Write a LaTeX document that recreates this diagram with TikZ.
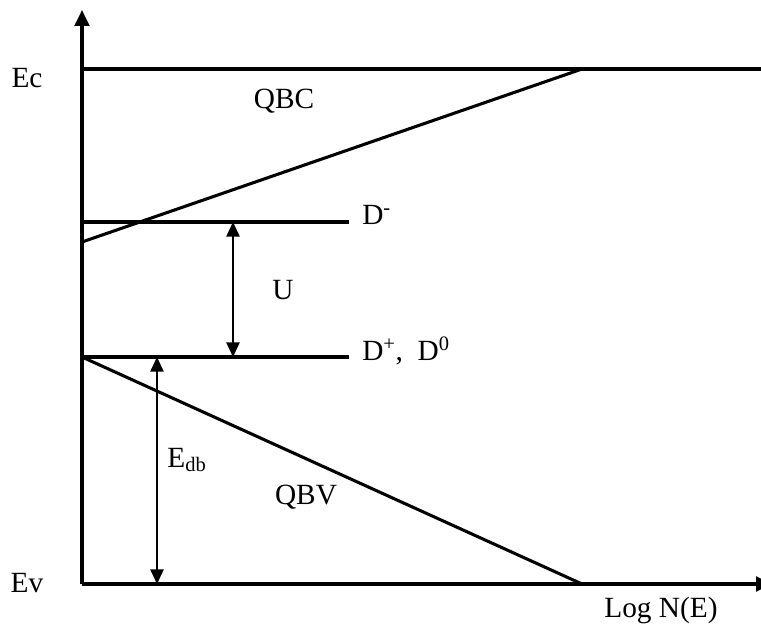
\documentclass[tikz,border=0pt]{standalone}
\usepackage{fontspec}
\setmainfont{Liberation Serif}
\usetikzlibrary{arrows.meta,positioning}

\tikzset{
  level/.style={line width=2.3pt},
  axis/.style={line width=2.3pt, -{Triangle[length=12pt,width=11pt]}},
  gap/.style={line width=1.2pt, {Triangle[length=11pt,width=10pt]}-{Triangle[length=11pt,width=10pt]}},
  lbl/.style={inner sep=0pt, font=\fontsize{22}{26}\selectfont}
}

\begin{document}
\begin{tikzpicture}[x=0.75pt,y=-0.75pt]
	\useasboundingbox (0,0) rectangle (761,634);
	\clip (0,0) rectangle (761,634);

	% axes
	\coordinate (o) at (82,584);
	\coordinate (ytop) at (82,10);
	\coordinate (xend) at (772,584);
	\draw[axis] (o) -- (ytop);
	\draw[axis] (o) -- (xend);

	% band edges and defect levels
	\coordinate (ec0) at (82,69);
	\coordinate (ec1) at (761,69);
	\coordinate (dm0) at (82,222);
	\coordinate (dm1) at (349,222);
	\coordinate (dp0) at (82,357);
	\coordinate (dp1) at (349,357);
	\draw[level] (ec0) -- (ec1);
	\draw[level] (dm0) -- (dm1);
	\draw[level] (dp0) -- (dp1);

	% band tails
	\coordinate (qbc0) at (82,242);
	\coordinate (qbc1) at (582,69);
	\coordinate (qbv1) at (582,584);
	\draw[level] (qbc0) -- (qbc1);
	\draw[level] (dp0) -- (qbv1);

	% energy gaps
	\coordinate (u0) at (233,222);
	\coordinate (u1) at (233,357);
	\coordinate (e0) at (157,357);
	\coordinate (e1) at (157,584);
	\draw[gap] (u0) -- (u1);
	\draw[gap] (e0) -- (e1);

	% labels
	\node[lbl] (ec) at (27,78) {Ec};
	\node[lbl] (ev) at (27,583) {Ev};
	\node[lbl] (qbc) at (284,101) {QBC};
	\node[lbl, anchor=west] (dm) at (362,215) {D\textsuperscript{-}};
	\node[lbl] (u) at (283,290) {U};
	\node[lbl, anchor=west] (dp) at (362,351) {D\textsuperscript{+},\ \ D\textsuperscript{0}};
	\node[lbl] (edb) at (187,460) {E\textsubscript{db}};
	\node[lbl] (qbv) at (306,497) {QBV};
	\node[lbl] (logn) at (661,610) {Log N(E)};
\end{tikzpicture}
\end{document}
